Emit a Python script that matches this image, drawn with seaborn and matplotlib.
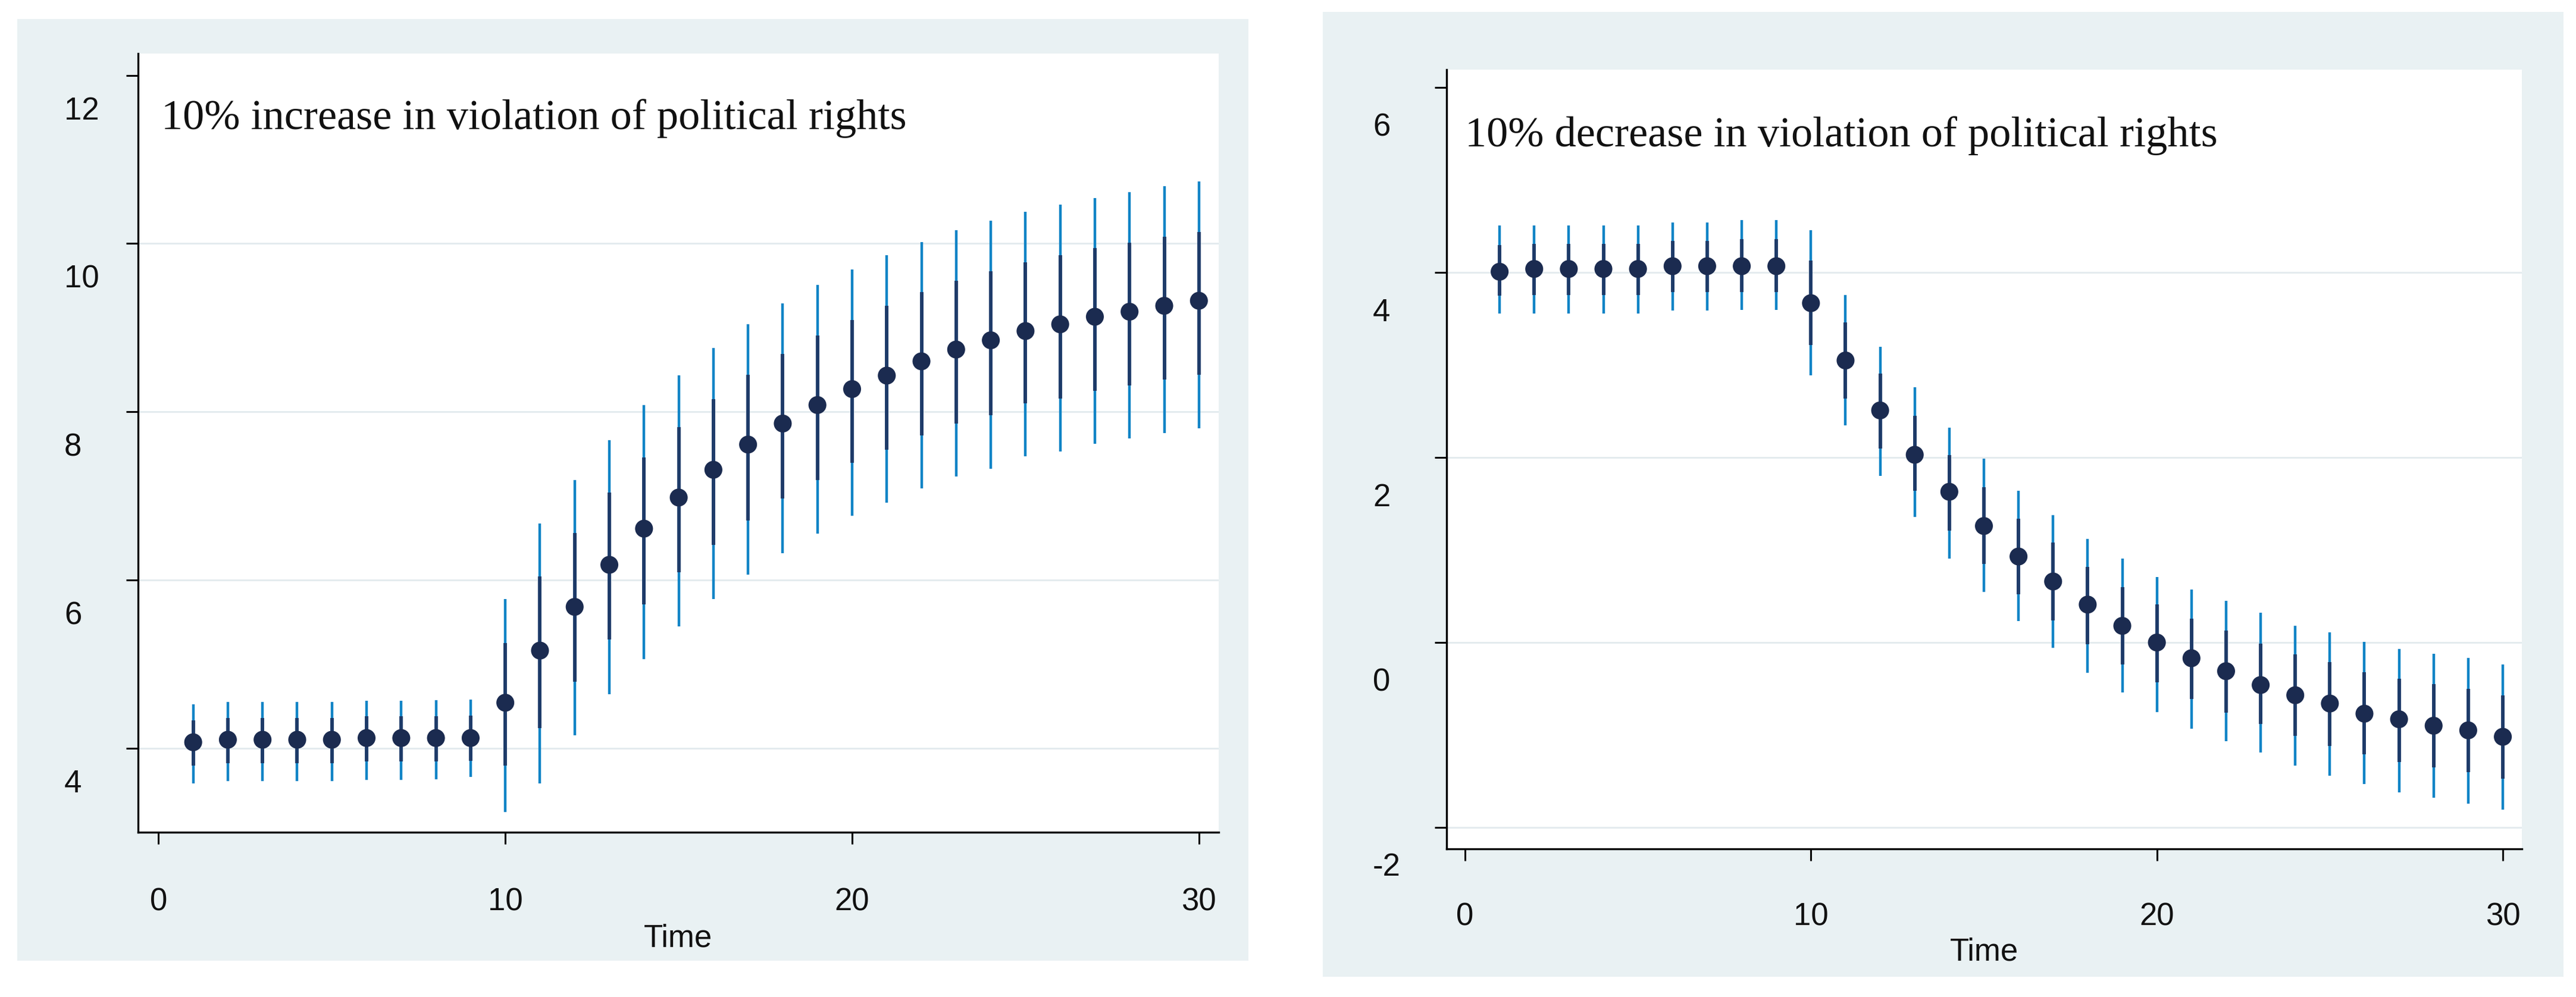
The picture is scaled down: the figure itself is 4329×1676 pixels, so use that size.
import matplotlib
matplotlib.use("Agg")
import matplotlib.pyplot as plt
import matplotlib.transforms as mtransforms
from matplotlib.patches import Rectangle
import pandas as pd
import seaborn as sns

# impulse responses
time = list(range(1, 31))

inc_est = [4.07, 4.10, 4.10, 4.10, 4.10, 4.12, 4.12, 4.12, 4.12, 4.54,
           5.16, 5.68, 6.18, 6.61, 6.98, 7.31, 7.61, 7.86, 8.08, 8.27,
           8.43, 8.60, 8.74, 8.85, 8.96, 9.04, 9.13, 9.19, 9.26, 9.32]
inc_hi = [4.52, 4.55, 4.55, 4.55, 4.55, 4.56, 4.56, 4.57, 4.58, 5.77,
          6.67, 7.19, 7.66, 8.08, 8.43, 8.76, 9.04, 9.29, 9.51, 9.69,
          9.86, 10.02, 10.16, 10.27, 10.38, 10.46, 10.54, 10.61, 10.68, 10.74]
inc_lo = [3.58, 3.61, 3.61, 3.61, 3.61, 3.62, 3.62, 3.63, 3.66, 3.24,
          3.58, 4.15, 4.64, 5.06, 5.45, 5.77, 6.06, 6.32, 6.55, 6.76,
          6.92, 7.09, 7.23, 7.32, 7.47, 7.53, 7.62, 7.68, 7.75, 7.80]
inc_hi_in = [4.33, 4.36, 4.36, 4.36, 4.36, 4.38, 4.38, 4.38, 4.39, 5.25,
             6.04, 6.56, 7.04, 7.46, 7.82, 8.15, 8.44, 8.69, 8.91, 9.09,
             9.26, 9.42, 9.56, 9.67, 9.78, 9.86, 9.95, 10.01, 10.08, 10.14]
inc_lo_in = [3.79, 3.82, 3.82, 3.82, 3.82, 3.84, 3.84, 3.84, 3.85, 3.79,
             4.24, 4.79, 5.29, 5.71, 6.09, 6.42, 6.71, 6.97, 7.19, 7.39,
             7.55, 7.72, 7.86, 7.96, 8.10, 8.16, 8.25, 8.31, 8.38, 8.44]

dec_est = [4.01, 4.04, 4.04, 4.04, 4.04, 4.07, 4.07, 4.07, 4.07, 3.67,
           3.05, 2.51, 2.03, 1.63, 1.26, 0.93, 0.66, 0.41, 0.18, 0.00,
           -0.17, -0.31, -0.46, -0.57, -0.66, -0.77, -0.83, -0.90, -0.95, -1.02]
dec_hi = [4.51, 4.51, 4.51, 4.51, 4.51, 4.54, 4.54, 4.57, 4.57, 4.46,
          3.76, 3.20, 2.76, 2.32, 1.99, 1.64, 1.38, 1.12, 0.91, 0.71,
          0.57, 0.45, 0.32, 0.18, 0.11, 0.01, -0.07, -0.12, -0.17, -0.24]
dec_lo = [3.56, 3.56, 3.56, 3.56, 3.56, 3.59, 3.59, 3.60, 3.60, 2.89,
          2.35, 1.80, 1.36, 0.91, 0.55, 0.23, -0.06, -0.33, -0.54, -0.75,
          -0.93, -1.07, -1.19, -1.33, -1.44, -1.53, -1.62, -1.68, -1.74, -1.81]
dec_hi_in = [4.30, 4.31, 4.31, 4.31, 4.31, 4.34, 4.34, 4.36, 4.36, 4.13,
             3.46, 2.91, 2.45, 2.03, 1.68, 1.34, 1.08, 0.82, 0.60, 0.41,
             0.26, 0.13, -0.01, -0.13, -0.21, -0.32, -0.39, -0.45, -0.50, -0.57]
dec_lo_in = [3.75, 3.76, 3.76, 3.76, 3.76, 3.79, 3.79, 3.79, 3.79, 3.22,
             2.64, 2.10, 1.64, 1.21, 0.85, 0.52, 0.24, -0.02, -0.24, -0.43,
             -0.61, -0.76, -0.88, -1.01, -1.12, -1.21, -1.29, -1.35, -1.40, -1.47]

inc_title = "10% increase in violation of political rights"
dec_title = "10% decrease in violation of political rights"
x_ticks = [0, 10, 20, 30]
inc_yticks = [4, 6, 8, 10, 12]
dec_yticks = [-2, 0, 2, 4, 6]

BG = "#e9f1f3"
GRID = "#e2eaee"
OUTER = "#1184c6"
INNER = "#1d3a68"
DOT = "#1b2b50"

sns.set_theme(style="white")
plt.rcParams["font.family"] = ["Liberation Sans", "DejaVu Sans"]
plt.rcParams["axes.unicode_minus"] = False

fig = plt.figure(figsize=(43.29, 16.76), dpi=100, facecolor="white")

panels = [
    dict(title=inc_title, est=inc_est, lo=inc_lo, hi=inc_hi, lo_in=inc_lo_in, hi_in=inc_hi_in,
         yticks=inc_yticks, ylim=(3.0, 12.26), xlim=(-0.59, 30.57),
         rect=[0.05359, 0.16527, 0.41950, 0.78103],
         bg=[0.00670, 0.03640, 0.47794, 0.94451],
         title_xy=(0.0215, 0.903), xlab_y=-0.1367, ylab_dy=55, xpad=52),
    dict(title=dec_title, est=dec_est, lo=dec_lo, hi=dec_hi, lo_in=dec_lo_in, hi_in=dec_hi_in,
         yticks=dec_yticks, ylim=(-2.232, 6.196), xlim=(-0.533, 30.55),
         rect=[0.56156, 0.14857, 0.41742, 0.78162],
         bg=[0.51351, 0.02029, 0.48164, 0.96778],
         title_xy=(0.0172, 0.9015), xlab_y=-0.1328, ylab_dy=62, xpad=50),
]

for p in panels:
    fig.add_artist(Rectangle(p["bg"][:2], p["bg"][2], p["bg"][3], transform=fig.transFigure,
                             facecolor=BG, edgecolor="none", zorder=-10))
    ax = fig.add_axes(p["rect"])
    ax.set_facecolor("white")

    df = pd.DataFrame({"time": time, "est": p["est"], "lo": p["lo"], "hi": p["hi"],
                       "lo_in": p["lo_in"], "hi_in": p["hi_in"]})
    ax.vlines(df["time"], df["lo"], df["hi"], color=OUTER, lw=3.2, zorder=2)
    ax.vlines(df["time"], df["lo_in"], df["hi_in"], color=INNER, lw=4.2, zorder=3)
    sns.scatterplot(data=df, x="time", y="est", ax=ax, s=470, color=DOT,
                    edgecolor="none", zorder=4, legend=False)

    ax.set_xlim(*p["xlim"])
    ax.set_ylim(*p["ylim"])
    ax.set_xticks(x_ticks)
    ax.set_yticks(p["yticks"])
    ax.grid(axis="y", color=GRID, lw=2)
    ax.grid(axis="x", visible=False)
    ax.set_axisbelow(True)
    ax.yaxis.get_gridlines()[-1].set_visible(False)

    for side in ["top", "right"]:
        ax.spines[side].set_visible(False)
    for side in ["left", "bottom"]:
        ax.spines[side].set_color("black")
        ax.spines[side].set_linewidth(2.4)

    ax.tick_params(axis="both", direction="out", length=14.4, width=2.2, color="black",
                   labelsize=38, labelcolor="#111111", left=True, bottom=True)
    ax.tick_params(axis="x", pad=p["xpad"])
    ax.tick_params(axis="y", pad=74.9)
    offset = mtransforms.ScaledTranslation(0, -p["ylab_dy"] / 100, fig.dpi_scale_trans)
    for lbl in ax.get_yticklabels():
        lbl.set_ha("left")
        lbl.set_transform(lbl.get_transform() + offset)

    ax.set_ylabel("")
    ax.set_xlabel("Time", fontsize=38, color="#111111")
    ax.xaxis.set_label_coords(0.5, p["xlab_y"])
    ax.xaxis.label.set_va("center")

    ax.text(p["title_xy"][0], p["title_xy"][1], p["title"], transform=ax.transAxes,
            fontsize=52, family=["Liberation Serif", "DejaVu Serif"], color="#111111",
            ha="left", va="baseline")

fig.savefig("out.png", dpi=100, facecolor="white")
